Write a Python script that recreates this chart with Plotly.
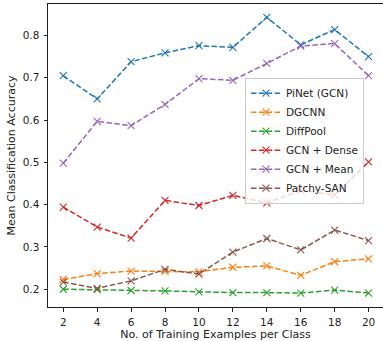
import plotly.graph_objects as go

x_vals = [2, 4, 6, 8, 10, 12, 14, 16, 18, 20]

pinet = [0.705, 0.650, 0.738, 0.759, 0.776, 0.772, 0.843, 0.778, 0.814, 0.750]
dgcnn = [0.223, 0.237, 0.243, 0.242, 0.241, 0.252, 0.255, 0.233, 0.265, 0.272]
diffpool = [0.200, 0.199, 0.197, 0.196, 0.194, 0.192, 0.192, 0.191, 0.198, 0.191]
gcn_dense = [0.394, 0.347, 0.321, 0.410, 0.398, 0.422, 0.404, 0.434, 0.423, 0.501]
gcn_mean = [0.498, 0.597, 0.587, 0.637, 0.698, 0.694, 0.734, 0.775, 0.781, 0.705]
patchy = [0.217, 0.202, 0.220, 0.247, 0.236, 0.288, 0.320, 0.293, 0.340, 0.315]

series_names = ["PiNet (GCN)", "DGCNN", "DiffPool", "GCN + Dense", "GCN + Mean", "Patchy-SAN"]
series_vals = [pinet, dgcnn, diffpool, gcn_dense, gcn_mean, patchy]
colors = ["#1f77b4", "#ff7f0e", "#2ca02c", "#d62728", "#9467bd", "#8c564b"]

x_ticks = [2, 4, 6, 8, 10, 12, 14, 16, 18, 20]
y_ticks = [0.2, 0.3, 0.4, 0.5, 0.6, 0.7, 0.8]

fig = go.Figure()
for name, vals, c in zip(series_names, series_vals, colors):
    fig.add_trace(go.Scatter(
        x=x_vals, y=vals, name=name, mode="lines+markers",
        line=dict(color=c, width=1.5, dash="5.5px,2.4px"),
        marker=dict(symbol="x-thin", size=7, line=dict(color=c, width=1.1)),
    ))

tick_font = dict(family="DejaVu Sans", size=10.5, color="#222222")
title_font = dict(family="DejaVu Sans", size=11, color="#222222")
axis_common = dict(
    showgrid=False, zeroline=False, showline=True, linecolor="#222222", linewidth=1,
    mirror=True, ticks="outside", ticklen=3.5, tickwidth=0.9, tickcolor="#222222",
    tickfont=tick_font,
)
fig.update_layout(
    width=383, height=341,
    margin=dict(l=48, r=0, t=4, b=34, autoexpand=False),
    paper_bgcolor="white", plot_bgcolor="white",
    font=tick_font,
    xaxis=dict(range=[1.1, 20.85], tickvals=x_ticks, ticktext=[str(t) for t in x_ticks],
               ticklabelstandoff=2,
               title=dict(text="No. of Training Examples per Class", font=title_font, standoff=5),
               **axis_common),
    yaxis=dict(range=[0.158, 0.8745], tickvals=y_ticks, ticktext=[f"{t:.1f}" for t in y_ticks],
               ticklabelstandoff=2,
               title=dict(text="Mean Classification Accuracy", font=title_font, standoff=4),
               **axis_common),
    legend=dict(x=0.588, y=0.757, xanchor="left", yanchor="top",
                bgcolor="rgba(255,255,255,0.8)", bordercolor="#cccccc", borderwidth=1,
                font=dict(family="DejaVu Sans", size=10.5, color="#222222"),
                itemwidth=30, tracegroupgap=0),
    showlegend=True,
)

fig.write_html("out.html", config={"displayModeBar": False},
               post_script="document.body.style.margin='0';document.body.style.padding='0';")
